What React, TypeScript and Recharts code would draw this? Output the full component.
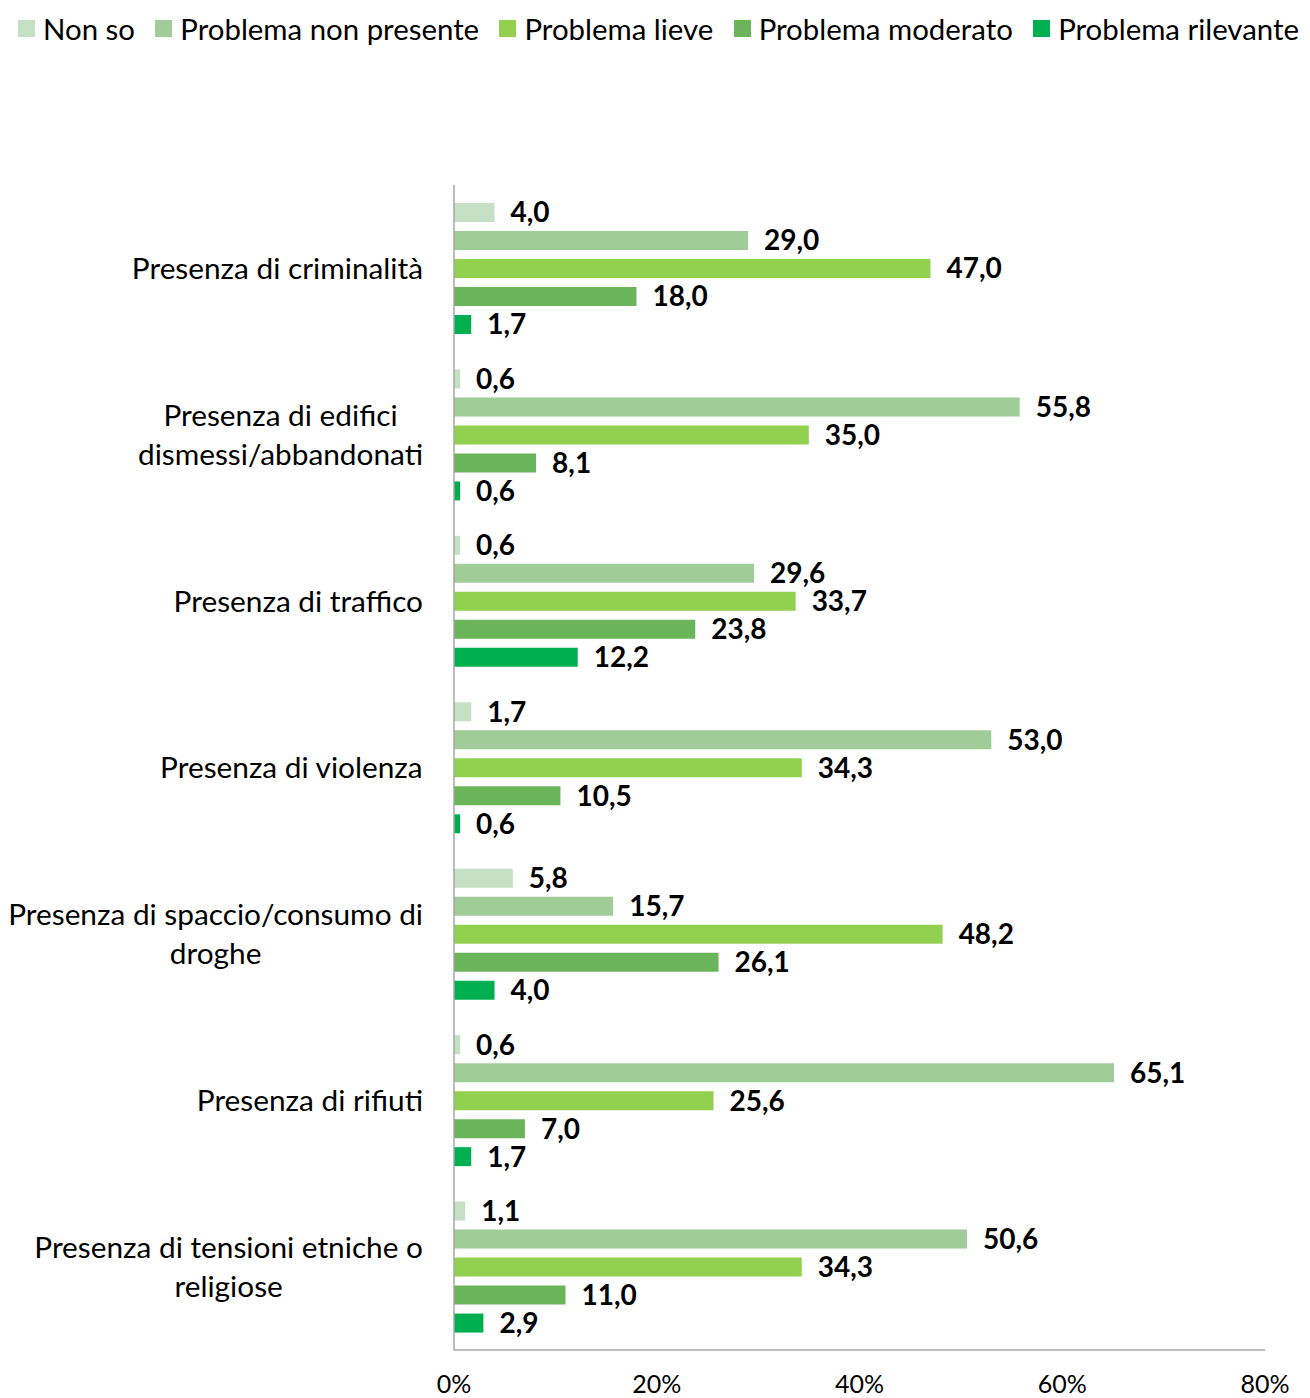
import React from 'react';
import { BarChart, Bar, XAxis, YAxis, LabelList } from 'recharts';

const categories = [
  'Presenza di criminalità',
  'Presenza di edifici\ndismessi/abbandonati',
  'Presenza di traffico',
  'Presenza di violenza',
  'Presenza di spaccio/consumo di\ndroghe',
  'Presenza di rifiuti',
  'Presenza di tensioni etniche o\nreligiose',
];

const nonSo = [4.0, 0.6, 0.6, 1.7, 5.8, 0.6, 1.1];
const nonPresente = [29.0, 55.8, 29.6, 53.0, 15.7, 65.1, 50.6];
const lieve = [47.0, 35.0, 33.7, 34.3, 48.2, 25.6, 34.3];
const moderato = [18.0, 8.1, 23.8, 10.5, 26.1, 7.0, 11.0];
const rilevante = [1.7, 0.6, 12.2, 0.6, 4.0, 1.7, 2.9];

const seriesKeys = ['nonSo', 'nonPresente', 'lieve', 'moderato', 'rilevante'];
const seriesNames = ['Non so', 'Problema non presente', 'Problema lieve', 'Problema moderato', 'Problema rilevante'];
const seriesColors = ['#C5E0C4', '#A0CC98', '#92D050', '#6AB55A', '#00B050'];
const seriesValues = [nonSo, nonPresente, lieve, moderato, rilevante];

const xTicks = [0, 20, 40, 60, 80];

const data = categories.map((c, i) => {
  const row: any = { category: c };
  seriesKeys.forEach((k, j) => {
    row[k] = seriesValues[j][i];
  });
  return row;
});

const FONT = 'Lato, "Open Sans", sans-serif';
const CAT_SIZE = 29.8;
const LEG_SIZE = 29.4;
const LINE_H = 39;

let ctx: CanvasRenderingContext2D | null = null;
const measure = (t: string, font: string) => {
  if (!ctx) ctx = document.createElement('canvas').getContext('2d');
  if (!ctx) return t.length * 14;
  ctx.font = font;
  return ctx.measureText(t).width;
};

const CategoryTick = (props: any) => {
  const { x, y, payload } = props;
  const lines = String(payload.value).split('\n');
  const font = `${CAT_SIZE}px Lato`;
  const maxW = Math.max(...lines.map((l) => measure(l, font)));
  const cx = x - maxW / 2;
  const y0 = y - ((lines.length - 1) * LINE_H) / 2;
  return (
    <g>
      {lines.map((l, i) => (
        <text
          key={i}
          x={cx}
          y={y0 + i * LINE_H}
          dy="0.36em"
          textAnchor="middle"
          fontFamily={FONT}
          fontSize={CAT_SIZE}
          fill="#000"
        >
          {l}
        </text>
      ))}
    </g>
  );
};

const fmt = (v: any) => Number(v).toFixed(1).replace('.', ',');

export default function App() {
  return (
    <div style={{ position: 'relative', width: 1294, height: 1390, fontFamily: FONT }}>
      <div
        style={{
          position: 'absolute',
          left: 10,
          top: 0,
          width: 1281,
          height: 40,
          display: 'flex',
          alignItems: 'center',
          justifyContent: 'space-between',
          fontSize: LEG_SIZE,
          whiteSpace: 'nowrap',
          color: '#000',
        }}
      >
        {seriesNames.map((n, i) => (
          <div key={n} style={{ display: 'flex', alignItems: 'center', flexShrink: 0 }}>
            <div style={{ width: 17, height: 17, background: seriesColors[i], marginRight: 8 }} />
            <span>{n}</span>
          </div>
        ))}
      </div>
      <BarChart
        width={1294}
        height={1390}
        data={data}
        layout="vertical"
        margin={{ top: 177, right: 37, left: 0, bottom: 0 }}
        barSize={19}
        barGap={9}
      >
        <XAxis
          type="number"
          domain={[0, 80]}
          ticks={xTicks}
          tickFormatter={(v) => `${v}%`}
          axisLine={{ stroke: '#A6A6A6', strokeWidth: 1.5 }}
          tickLine={false}
          tickSize={6}
          tickMargin={19}
          height={48}
          tick={{ fontFamily: FONT, fontSize: 25, fill: '#000' }}
          interval={0}
        />
        <YAxis
          type="category"
          dataKey="category"
          width={446}
          axisLine={{ stroke: '#A6A6A6', strokeWidth: 1.5 }}
          tickLine={false}
          tickSize={0}
          tickMargin={31}
          tick={<CategoryTick />}
          interval={0}
        />
        {seriesKeys.map((k, i) => (
          <Bar key={k} dataKey={k} name={seriesNames[i]} fill={seriesColors[i]} isAnimationActive={false}>
            <LabelList
              dataKey={k}
              position="right"
              offset={16}
              formatter={fmt}
              style={{ fontFamily: FONT, fontSize: 28, fontWeight: 700, fill: '#000' }}
            />
          </Bar>
        ))}
      </BarChart>
    </div>
  );
}
